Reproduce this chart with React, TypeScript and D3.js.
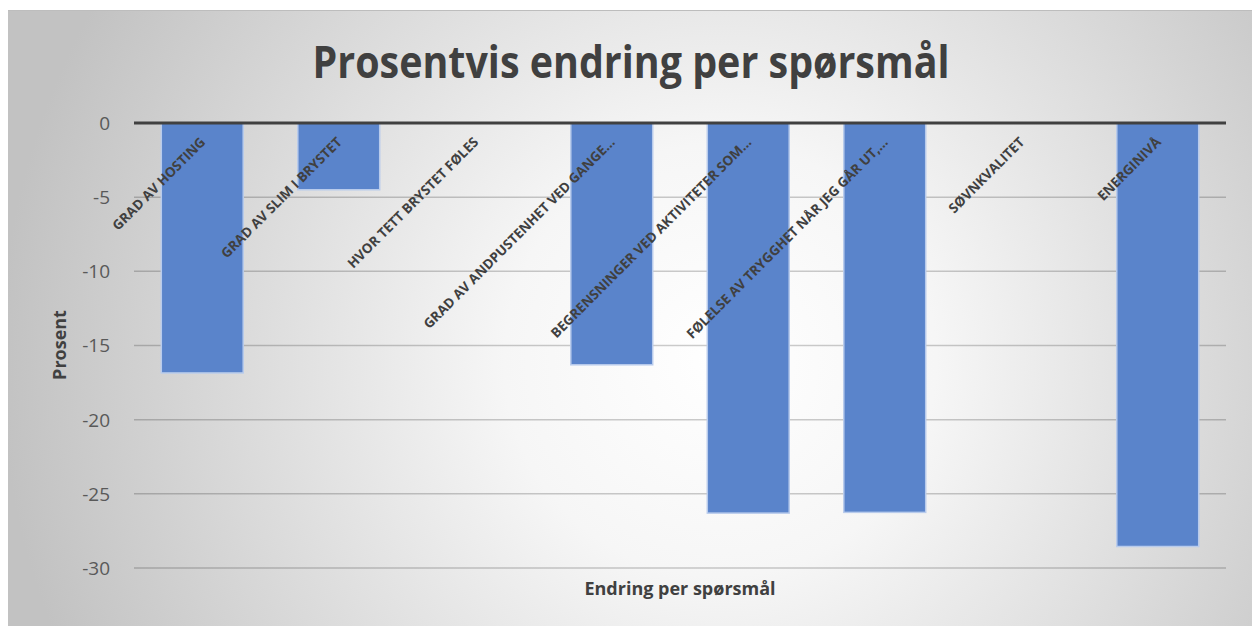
import React from "react";
import * as d3 from "d3";

const categories = [
  "GRAD AV HOSTING",
  "GRAD AV SLIM I BRYSTET",
  "HVOR TETT BRYSTET FØLES",
  "GRAD AV ANDPUSTENHET VED GANGE...",
  "BEGRENSNINGER VED AKTIVITETER SOM...",
  "FØLELSE AV TRYGGHET NÅR JEG GÅR UT,...",
  "SØVNKVALITET",
  "ENERGINIVÅ",
];
const values = [-16.85, -4.5, 0, -16.3, -26.3, -26.25, 0, -28.55];
const yTicks = [0, -5, -10, -15, -20, -25, -30];

const W = 1252;
const H = 626;
const FONT = "'Open Sans', 'Noto Sans', sans-serif";

export default function App() {
  const x = d3.scaleBand<string>().domain(categories).range([134, 1226]).paddingInner(0.4).paddingOuter(0.2);
  const y = d3.scaleLinear().domain([0, -30]).range([123, 568]);

  return (
    <svg width={W} height={H} style={{ position: "absolute", left: 0, top: 0 }}>
      <defs>
        <radialGradient id="bg" gradientUnits="userSpaceOnUse" cx={720} cy={360} r={720}>
          <stop offset="0" stopColor="#ffffff" />
          <stop offset="0.3" stopColor="#f6f6f6" />
          <stop offset="1" stopColor="#c2c2c2" />
        </radialGradient>
      </defs>
      <rect x={0} y={0} width={W} height={H} fill="#ffffff" />
      <rect x={8} y={10} width={W - 8} height={H - 10} fill="url(#bg)" />
      <line x1={8} x2={W} y1={10.5} y2={10.5} stroke="#bdbdbd" strokeWidth={1} />

      {/* title */}
      <text x={631} y={78} textAnchor="middle" fontFamily={FONT} fontWeight={700} fontSize={44} fill="#404040" textLength={637} lengthAdjust="spacingAndGlyphs">
        Prosentvis endring per spørsmål
      </text>

      {/* gridlines */}
      {yTicks.filter((t) => t !== 0).map((t) => (
        <line key={t} x1={134} x2={1226} y1={y(t)} y2={y(t)} stroke="rgba(0,0,0,0.2)" strokeWidth={1.5} />
      ))}

      {/* bars */}
      {categories.map((c, i) => {
        const v = values[i];
        if (v === 0) return null;
        return (
          <rect key={c} x={x(c)} y={y(0)} width={x.bandwidth()} height={y(v) - y(0)} fill="#5a84cb" stroke="#b8cbec" strokeWidth={1.5} />
        );
      })}

      {/* zero line */}
      <line x1={134} x2={1226} y1={y(0)} y2={y(0)} stroke="#404040" strokeWidth={3} />

      {/* y tick labels */}
      {yTicks.map((t) => (
        <text key={t} x={110} y={y(t)} dy="0.36em" textAnchor="end" fontFamily={FONT} fontSize={19} fill="#595959">
          {d3.format("d")(t).replace("−", "-")}
        </text>
      ))}

      {/* category labels */}
      {categories.map((c) => {
        const cx = (x(c) as number) + x.bandwidth() / 2 + 4;
        const cy = 143;
        return (
          <text key={c} transform={`translate(${cx},${cy}) rotate(-45)`} textAnchor="end" fontFamily={FONT} fontWeight={700} fontSize={13.5} fill="#404040">
            {c}
          </text>
        );
      })}

      {/* axis titles */}
      <text transform="translate(66,345) rotate(-90)" textAnchor="middle" fontFamily={FONT} fontWeight={700} fontSize={18} fill="#404040">
        Prosent
      </text>
      <text x={680} y={595} textAnchor="middle" fontFamily={FONT} fontWeight={700} fontSize={18} fill="#404040">
        Endring per spørsmål
      </text>
    </svg>
  );
}
